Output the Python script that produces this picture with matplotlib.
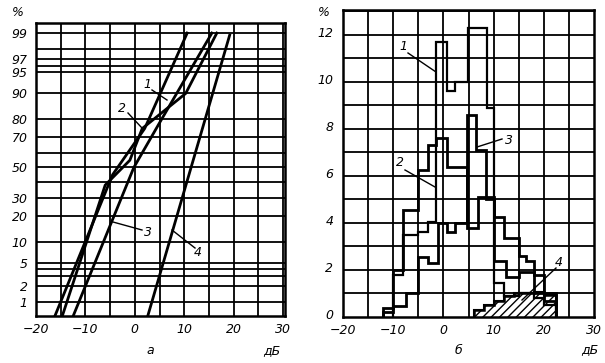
import numpy as np
import matplotlib
matplotlib.use("Agg")
import matplotlib.pyplot as plt
import matplotlib.transforms as mtransforms
from statistics import NormalDist

# ---------------- data ----------------
# panel a: cumulative distributions on probability paper (dB, %)
curve1_db = [-16.2, -4.5, 2.0, 10.6]
curve1_pct = [0.5, 45, 75, 99]
curve2_db = [-14.7, -6.0, -1.0, 1.5, 10.3, 16.6]
curve2_pct = [0.5, 38, 55, 75, 90, 99]
curve3_db = [-12.5, -0.2, 5.0, 15.6]
curve3_pct = [0.5, 50, 78, 99]
curve4_db = [2.6, 19.2]
curve4_pct = [0.5, 98.9]

prob_ticks = [1, 2, 5, 10, 20, 30, 50, 70, 80, 90, 95, 97, 99]
prob_grid = [1, 2, 3, 4, 5, 10, 20, 30, 40, 50, 60, 70, 80, 90, 95, 96, 97, 98, 99]
xticks_db = [-20, -10, 0, 10, 20, 30]

# panel b: histograms (bin edges dB, heights %)
h1_edges = [-10, -8, -5, -3, -1.5, 0.7, 2.3, 4.9, 8.7, 10.1, 12, 15, 18, 20, 22.4]
h1_vals = [1.8, 3.5, 3.6, 4.05, 11.7, 9.6, 10.0, 12.3, 8.9, 1.45, 0.9, 1.0, 0.8, 0.5]
h2_edges = [-12, -10, -8, -5, -3, -1.5, 0.7, 4.8, 6.8, 10.1, 12, 15, 16.5, 18, 20, 22.4]
h2_vals = [0.4, 2.0, 4.55, 6.25, 7.3, 7.6, 6.4, 3.8, 5.1, 4.25, 3.35, 2.6, 2.4, 1.8, 1.0]
h3_edges = [-12, -10, -7.5, -5, -3, -1, 0.7, 2.3, 4.8, 6.4, 8.4, 10.1, 12.5, 15, 18, 20, 22.4]
h3_vals = [0.2, 0.45, 1.0, 2.55, 2.3, 4.0, 3.6, 4.0, 8.6, 7.1, 5.0, 2.4, 1.7, 1.9, 1.0, 0.7]
h4_edges = [6, 8, 10, 12, 14, 16, 18, 20, 22.4]
h4_vals = [0.3, 0.5, 0.7, 0.9, 1.0, 1.0, 1.05, 0.95]

yticks_b = [0, 2, 4, 6, 8, 10, 12]

# ---------------- figure ----------------
W, H = 605, 363
fig = plt.figure(figsize=(W / 100, H / 100), dpi=100)
fig.patch.set_facecolor("white")

def fx(px):
    return px / W

def fy(py):
    return 1 - py / H

font = dict(family="DejaVu Sans", style="italic", size=9)

nd = NormalDist()
def fwd(p):
    p = np.clip(np.asarray(p, dtype=float), 1e-6, 100 - 1e-6)
    return np.vectorize(lambda v: nd.inv_cdf(v / 100.0), otypes=[float])(p)

def inv(z):
    z = np.asarray(z, dtype=float)
    return np.vectorize(lambda v: nd.cdf(v) * 100.0, otypes=[float])(z)

LW_GRID = 1.3
LW_CURVE = 2.0

# ---- panel a ----
axa = fig.add_axes([fx(36), fy(316), fx(285) - fx(36), fy(23) - fy(316)])
axa.set_yscale("function", functions=(fwd, inv))
axa.set_xlim(-20, 30.4)
axa.set_ylim(0.508, 99.38)
for v in np.arange(-15, 31, 5):
    axa.axvline(v, color="black", lw=LW_GRID, zorder=1)
for p in prob_grid:
    axa.axhline(p, color="black", lw=LW_GRID, zorder=1)
for xs, ps in [(curve1_db, curve1_pct), (curve2_db, curve2_pct),
               (curve3_db, curve3_pct), (curve4_db, curve4_pct)]:
    axa.plot(xs, ps, color="black", lw=LW_CURVE, zorder=3)
axa.set_xticks(xticks_db)
axa.set_xticklabels(["\u221220", "\u221210", "0", "10", "20", "30"], **font)
axa.set_yticks(prob_ticks)
axa.set_yticklabels([str(p) for p in prob_ticks], **font)
axa.yaxis.set_minor_locator(matplotlib.ticker.NullLocator())
axa.tick_params(axis="x", length=0, pad=5)
axa.tick_params(axis="y", length=0, pad=6)
for s in axa.spines.values():
    s.set_linewidth(1.8)

# ---- panel b ----
axb = fig.add_axes([fx(343), fy(317), fx(594) - fx(343), fy(10) - fy(317)])
axb.set_xlim(-20, 30)
axb.set_ylim(0, 13.06)
for v in np.arange(-15, 30, 5):
    axb.axvline(v, color="black", lw=LW_GRID, zorder=1)
for v in range(1, 14):
    axb.axhline(v, color="black", lw=LW_GRID, zorder=1)

axb.stairs(h4_vals, h4_edges, fill=True, facecolor="white", edgecolor="black",
           hatch="////", lw=1.5, zorder=2)
axb.stairs(h4_vals, h4_edges, color="black", lw=1.8, zorder=4)
axb.stairs(h3_vals, h3_edges, color="black", lw=LW_CURVE, zorder=3)
axb.stairs(h2_vals, h2_edges, color="black", lw=LW_CURVE, zorder=3)
axb.stairs(h1_vals, h1_edges, color="black", lw=1.6, zorder=3)

axb.set_xticks(xticks_db)
axb.set_xticklabels(["\u221220", "\u221210", "0", "10", "20", "30"], **font)
axb.set_yticks(yticks_b)
axb.set_yticklabels([str(v) for v in yticks_b], **font)
axb.tick_params(axis="x", length=0, pad=5)
axb.tick_params(axis="y", length=0, pad=7)
# lift the y labels of panel b slightly, as in the reference
lift = mtransforms.ScaledTranslation(0, 3 / 100, fig.dpi_scale_trans)
for lab in axb.get_yticklabels():
    lab.set_transform(lab.get_transform() + lift)
for s in axb.spines.values():
    s.set_linewidth(1.8)

# ---- texts ----
fig.text(fx(18), fy(13), "%", ha="center", va="center", **font)
fig.text(fx(324), fy(12), "%", ha="center", va="center", **font)
fig.text(fx(150), fy(351), "а", ha="center", va="center", **font)
fig.text(fx(272), fy(351), "дБ", ha="center", va="center", **font)
fig.text(fx(458), fy(351), "б", ha="center", va="center", **font)
fig.text(fx(590), fy(350), "дБ", ha="center", va="center", **font)

def label(txt, tx, ty, x0, y0, x1, y1):
    fig.text(fx(tx), fy(ty), txt, ha="center", va="center", **font)
    fig.add_artist(plt.Line2D([fx(x0), fx(x1)], [fy(y0), fy(y1)],
                              color="black", lw=1.0))

label("1", 147, 85, 152, 90, 167, 100)
label("2", 122, 108, 128, 113, 142, 128)
label("3", 148, 232, 142, 230, 113, 222)
label("4", 198, 252, 195, 248, 172, 230)

label("1", 403, 47, 408, 53, 436, 72)
label("2", 400, 163, 405, 170, 435, 187)
label("3", 509, 140, 502, 139, 477, 147)
label("4", 559, 262, 556, 268, 522, 300)

fig.savefig("out.png", dpi=100, facecolor="white")
